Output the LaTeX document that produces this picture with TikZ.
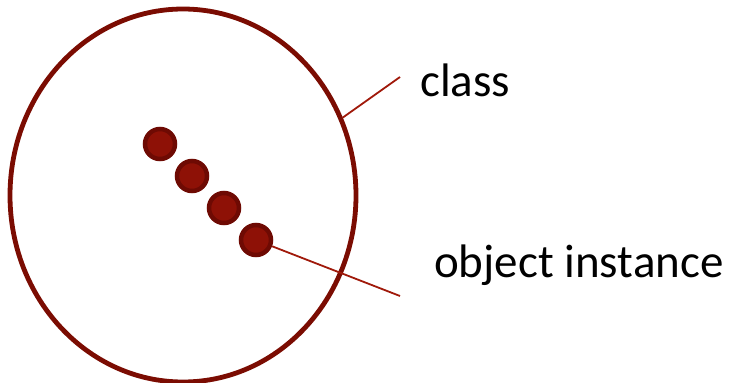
\documentclass[tikz,border=0pt]{standalone}
\usepackage{fontspec}
\setmainfont{Carlito}
\usetikzlibrary{shapes.geometric}
\definecolor{ringcol}{HTML}{7B0C02}
\definecolor{dotfill}{HTML}{8E1106}
\definecolor{dotline}{HTML}{6E0A03}
\definecolor{leadcol}{HTML}{A0190A}
\tikzset{
  classring/.style={ellipse, draw=ringcol, line width=4.8pt, inner sep=0pt},
  objdot/.style={circle, draw=dotline, fill=dotfill, line width=4.5pt, minimum size=30pt, inner sep=0pt},
  leader/.style={draw=leadcol, line width=1.8pt},
  lbl/.style={font=\fontsize{47}{50}\selectfont, inner sep=0pt, anchor=base west}
}
\begin{document}
\begin{tikzpicture}[x=1pt,y=-1pt]
\useasboundingbox (0,0) rectangle (734,383);
\node[classring, minimum width=346pt, minimum height=373pt] (cls) at (183,195.5) {};
\node[objdot] (d1) at (160,144) {};
\node[objdot] (d2) at (192,176) {};
\node[objdot] (d3) at (224,208) {};
\node[objdot] (d4) at (256,240) {};
\coordinate (ce) at (400,77);
\coordinate (oe) at (400,296);
\node[lbl] (classlbl) at (420,96) {class};
\node[lbl] (objlbl) at (434,277) {object instance};
\draw[leader] (cls.26) -- (ce);
\draw[leader] (d4) -- (oe);
\end{tikzpicture}
\end{document}
